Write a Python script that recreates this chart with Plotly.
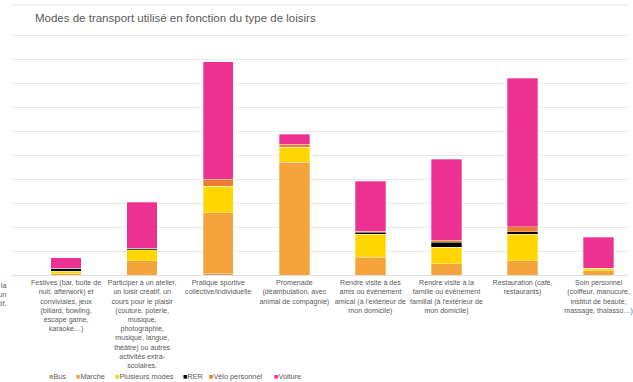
import plotly.graph_objects as go

# ---------------- data ----------------
categories = [
    "Festives (bar, boîte de<br>nuit, afterwork) et<br>conviviales, jeux<br>(billard, bowling,<br>escape game,<br>karaoké…)",
    "Participer à un atelier,<br>un loisir créatif, un<br>cours pour le plaisir<br>(couture, poterie,<br>musique,<br>photographie,<br>musique, langue,<br>théâtre) ou autres<br>activités extra-<br>scolaires.",
    "Pratique sportive<br>collective/individuelle",
    "Promenade<br>(déambulation, avec<br>animal de compagnie)",
    "Rendre visite à des<br>amis ou événement<br>amical (à l'extérieur de<br>mon domicile)",
    "Rendre visite à la<br>famille ou événement<br>familial (à l'extérieur de<br>mon domicile)",
    "Restauration (café,<br>restaurants)",
    "Soin personnel<br>(coiffeur, manucure,<br>institut de beauté,<br>massage, thalasso…)",
]
# label of the category cut off at the left edge (its bar lies outside the view)
hidden_left_label = "Assister à la<br>rencontre d'un<br>événement sportif,"

series_names = ["Bus", "Marche", "Plusieurs modes", "RER", "Vélo personnel", "Voiture"]
bus = [0, 0, 0.6, 0, 0, 0, 0, 0]
marche = [0.5, 6.0, 25.3, 46.9, 7.4, 4.6, 6.0, 1.7]
plusieurs = [1.1, 4.5, 11.1, 6.25, 9.6, 7.0, 11.0, 1.1]
rer = [1.25, 0.6, 0, 0, 0.8, 2.1, 1.0, 0]
velo = [0, 0, 2.8, 1.4, 0.5, 0.7, 2.2, 0]
voiture = [4.3, 19.2, 49.0, 4.2, 20.7, 33.9, 61.8, 12.9]
series_values = [bus, marche, plusieurs, rer, velo, voiture]

grid_ticks = [0, 10, 20, 30, 40, 50, 60, 70, 80, 90, 100]

# ---------------- style ----------------
colors = ["#c9a07a", "#f4a43a", "#ffd600", "#000000", "#ee7c30", "#ec3192"]
FONT = "Liberation Sans, Arial, sans-serif"
GREY = "#595959"
W, H = 633, 382
ML, MR, MT, MB = 11, 0, 5, 107

fig = go.Figure()
for name, vals, col in zip(series_names, series_values, colors):
    fig.add_trace(go.Bar(
        x=categories, y=vals, name=name,
        marker=dict(color=col, line=dict(color="rgba(255,255,255,0.5)", width=0.6)),
        width=0.40, showlegend=False,
    ))

fig.update_layout(
    width=W, height=H,
    margin=dict(l=ML, r=MR, t=MT, b=MB, pad=0),
    barmode="stack",
    paper_bgcolor="white", plot_bgcolor="white",
    font=dict(family=FONT, color=GREY, size=7.1),
    title=dict(text="Modes de transport utilisé en fonction du type de loisirs",
               x=35 / W, xref="container", xanchor="left",
               y=1 - 18 / H, yref="container", yanchor="middle",
               font=dict(size=11.5, color=GREY, family=FONT)),
    xaxis=dict(type="category", range=[-0.724, 7.386], showgrid=False,
               showline=False, ticks="", tickfont=dict(size=7.1, color=GREY),
               tickangle=0, fixedrange=True, ticklabelstandoff=2),
    yaxis=dict(range=[0, 112.5], tickvals=grid_ticks, showticklabels=False,
               gridcolor="#e8e8e8", gridwidth=1.2, zeroline=True,
               zerolinecolor="#e0e0e0", zerolinewidth=1.2, showline=False),
)

# top border line of the plot area
fig.add_shape(type="line", xref="paper", yref="paper", x0=0, x1=1, y0=1, y1=1,
              line=dict(color="#e8e8e8", width=1.2), layer="below")

plot_w = W - ML - MR
plot_h = H - MT - MB

def px_x(px):
    return (px - ML) / plot_w

def px_y(py):
    return (H - MB - py) / plot_h

# partially visible label of left category
fig.add_annotation(text=f"<span style='color:{GREY}'>{hidden_left_label}</span>",
                   xref="paper", yref="paper",
                   x=px_x(7.5), y=px_y(279.5), xanchor="right", yanchor="top",
                   align="right", showarrow=False,
                   font=dict(size=7.1, color=GREY, family=FONT))

# legend drawn as text items
legend_x = [47, 75, 114, 182, 209, 274]
for name, col, lx in zip(series_names, colors, legend_x):
    fig.add_annotation(
        text=f"<span style='color:{col}'>■</span><span style='color:{GREY}'>{name}</span>",
        xref="paper", yref="paper", x=px_x(lx), y=px_y(376),
        xanchor="left", yanchor="middle", showarrow=False,
        font=dict(size=7.3, color=GREY, family=FONT))

fig.write_html("out.html")
